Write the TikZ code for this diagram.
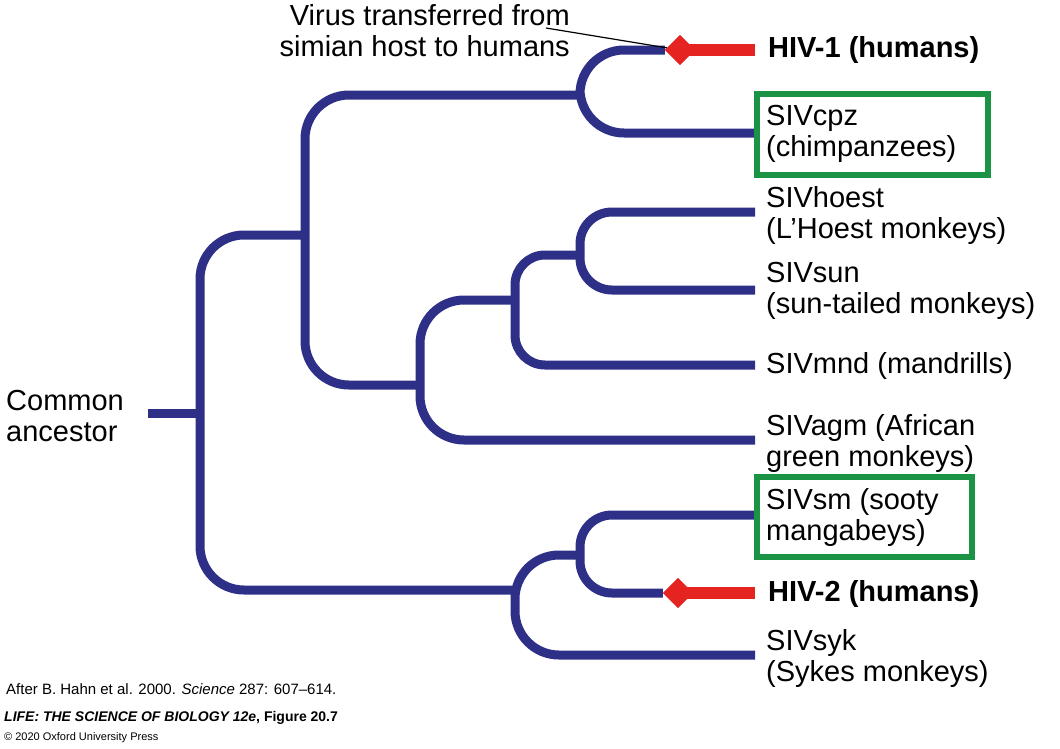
\documentclass[tikz,border=0pt]{standalone}
\usepackage{fontspec}
\setmainfont{Liberation Sans}
\usetikzlibrary{shapes.geometric}
\definecolor{navy}{HTML}{2E3088}
\definecolor{hred}{HTML}{E52421}
\definecolor{hgreen}{HTML}{1A9444}
\begin{document}
\begin{tikzpicture}[x=1pt,y=-1pt,
  br/.style={draw=navy,line width=9pt,rounded corners=44pt},
  leaf/.style={anchor=west,align=left,font=\fontsize{29}{31}\selectfont,inner sep=0pt},
  gbox/.style={draw=hgreen,line width=6pt},
  dia/.style={diamond,fill=hred,minimum size=30pt,inner sep=0pt},
  note/.style={font=\fontsize{15}{17}\selectfont,anchor=west,inner sep=0pt}]
\useasboundingbox (0,0) rectangle (1060,748);
\coordinate (lH1) at (755,50);
\coordinate (lcpz) at (755,133);
\coordinate (lhoest) at (755,212);
\coordinate (lsun) at (755,290);
\coordinate (lmnd) at (755,365);
\coordinate (lagm) at (755,440);
\coordinate (lsm) at (755,515);
\coordinate (lH2) at (755,593);
\coordinate (lsyk) at (755,655);
\node[dia] (d1) at (680,50) {};
\node[dia] (d2) at (678,593) {};
\coordinate (root) at (148,413);
\draw[br] (root) -- (200,413);
\draw[br] (305,235) -- (200,235) -- (200,590) -- (515,590);
\draw[br] (580,95) -- (305,95) -- (305,385) -- (420,385);
\draw[br] (d1) -- (580,50) -- (580,133) -- (lcpz);
\draw[br] (515,300) -- (420,300) -- (420,440) -- (lagm);
\draw[br,rounded corners=30pt] (580,255) -- (515,255) -- (515,365) -- (lmnd);
\draw[br,rounded corners=32pt] (lhoest) -- (580,212) -- (580,290) -- (lsun);
\draw[br] (580,555) -- (515,555) -- (515,655) -- (lsyk);
\draw[br,rounded corners=32pt] (lsm) -- (580,515) -- (580,593) -- (d2);
\draw[hred,line width=12pt] (d1.center) -- (lH1);
\draw[hred,line width=12pt] (d2.center) -- (lH2);
\node[dia] at (680,50) {};
\node[dia] at (678,593) {};
\node[leaf,font=\fontsize{29}{31}\selectfont\bfseries] (tH1) at (768,50) {HIV-1 (humans)};
\node[leaf] (tcpz) at (766,134) {SIVcpz\\(chimpanzees)};
\node[leaf] (thoest) at (766,215) {SIVhoest\\(L'Hoest monkeys)};
\node[leaf] (tsun) at (766,291) {SIVsun\\(sun-tailed monkeys)};
\node[leaf] (tmnd) at (766,366) {SIVmnd (mandrills)};
\node[leaf] (tagm) at (766,443) {SIVagm (African\\green monkeys)};
\node[leaf] (tsm) at (766,517) {SIVsm (sooty\\mangabeys)};
\node[leaf,font=\fontsize{29}{31}\selectfont\bfseries] (tH2) at (768,594) {HIV-2 (humans)};
\node[leaf] (tsyk) at (766,658) {SIVsyk\\(Sykes monkeys)};
\node[leaf] (tca) at (6,416) {Common\\ancestor};
\node[leaf,anchor=east,align=right] (tvir) at (570,31) {Virus transferred from\\simian host to humans};
\draw[black,line width=1.2pt] (546,28) -- (d1);
\draw[gbox] (757,94) rectangle (988,175);
\draw[gbox] (757,477) rectangle (972,557);
\node[note] (n1) at (6,689) {After B. Hahn et al. 2000. \textit{Science} 287: 607--614.};
\node[note,font=\fontsize{14}{16}\selectfont] (n2) at (4,718) {\textbf{\textit{LIFE: THE SCIENCE OF BIOLOGY 12e}, Figure 20.7}};
\node[note,font=\fontsize{11}{13}\selectfont] (n3) at (4,738) {\textcopyright{} 2020 Oxford University Press};
\end{tikzpicture}
\end{document}
